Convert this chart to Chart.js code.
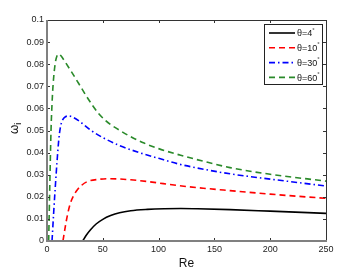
<!DOCTYPE html>
<html>
<head>
<meta charset="utf-8">
<script src="https://cdn.jsdelivr.net/npm/chart.js@4.4.0/dist/chart.umd.min.js"></script>
<style>
  html, body { margin: 0; padding: 0; background: #fff; }
  #wrap { width: 360px; height: 271px; }
</style>
</head>
<body>
<div id="wrap"><canvas id="grafico" width="360" height="271"></canvas></div>
<script>
// Re (eixo x) e omega_i, um par de arrays por angulo
const re4 = [32, 35, 39, 44, 50, 57, 65, 75, 90, 105, 120, 135, 164, 200, 250];
const w4  = [0, 0.0025, 0.0051, 0.0077, 0.0098, 0.0115, 0.0128, 0.0137, 0.0143, 0.0146, 0.0147, 0.0146, 0.0142, 0.0135, 0.0125];

const re10 = [14.3, 16.4, 18.5, 20.9, 23.5, 26.9, 31, 35.8, 46, 54, 63, 75, 90, 119, 140, 164, 200, 250];
const w10  = [0, 0.0065, 0.0122, 0.017, 0.0202, 0.023, 0.0252, 0.0268, 0.0279, 0.0282, 0.0281, 0.0277, 0.0269, 0.025, 0.0239, 0.0228, 0.0212, 0.0193];

const re30 = [4.5, 6, 7.5, 9, 10.5, 12, 14, 16.5, 19.5, 24, 30, 39, 50, 65, 84, 100, 119, 140, 164, 200, 250];
const w30  = [0, 0.013, 0.025, 0.036, 0.0455, 0.0515, 0.0548, 0.0562, 0.0566, 0.0558, 0.0538, 0.0502, 0.0468, 0.0432, 0.0398, 0.0374, 0.0347, 0.0325, 0.0304, 0.028, 0.0249];

const re60 = [1.5, 2.5, 3.6, 4.5, 5.5, 7.4, 9, 10.5, 12.5, 16, 21, 28, 35, 41, 46, 52, 58, 66, 75, 87, 100, 119, 140, 164, 200, 250];
const w60  = [0, 0.025, 0.05, 0.062, 0.071, 0.0805, 0.0838, 0.0846, 0.0838, 0.0812, 0.0773, 0.0716, 0.0658, 0.0612, 0.0578, 0.0547, 0.0523, 0.0498, 0.0472, 0.0443, 0.0418, 0.0389, 0.0361, 0.0332, 0.0302, 0.0271];

const rotulos = ['θ=4°', 'θ=10°', 'θ=30°', 'θ=60°'];
const ticksX = [0, 50, 100, 150, 200, 250];
const ticksY = [0, 0.01, 0.02, 0.03, 0.04, 0.05, 0.06, 0.07, 0.08, 0.09, 0.1];

const fonte = '"Liberation Sans", Arial, sans-serif';

function pontos(re, w) {
    return re.map((r, i) => ({ x: r, y: w[i] }));
}

// moldura estilo matlab: caixa, ticks para dentro, legenda e titulo do eixo y
const moldura = {
    id: 'moldura',
    afterDraw(chart) {
        const { ctx, chartArea: a, scales } = chart;
        ctx.save();

        // ticks internos nos quatro lados
        ctx.strokeStyle = '#333';
        ctx.lineWidth = 1;
        ctx.beginPath();
        scales.x.ticks.forEach(t => {
            const px = Math.round(scales.x.getPixelForValue(t.value)) + 0.5;
            ctx.moveTo(px, a.bottom); ctx.lineTo(px, a.bottom - 3);
            ctx.moveTo(px, a.top); ctx.lineTo(px, a.top + 3);
        });
        scales.y.ticks.forEach(t => {
            const py = Math.round(scales.y.getPixelForValue(t.value)) + 0.5;
            ctx.moveTo(a.left, py); ctx.lineTo(a.left + 3, py);
            ctx.moveTo(a.right, py); ctx.lineTo(a.right - 3, py);
        });
        ctx.stroke();

        // caixa
        ctx.strokeStyle = '#333';
        ctx.beginPath();
        ctx.moveTo(a.left, a.top + 0.5); ctx.lineTo(a.right + 0.5, a.top + 0.5);
        ctx.lineTo(a.right + 0.5, a.bottom);
        ctx.stroke();
        ctx.strokeStyle = '#808080';
        ctx.lineWidth = 2;
        ctx.beginPath();
        ctx.moveTo(a.left, a.top); ctx.lineTo(a.left, a.bottom);
        ctx.lineTo(a.right + 1, a.bottom);
        ctx.stroke();

        // legenda
        const lx = 264.5, ly = 24.5, lw = 58, lh = 60;
        ctx.fillStyle = '#fff';
        ctx.fillRect(lx, ly, lw, lh);
        ctx.strokeStyle = '#222';
        ctx.lineWidth = 1;
        ctx.strokeRect(lx, ly, lw, lh);
        ctx.textBaseline = 'middle';
        chart.data.datasets.forEach((ds, i) => {
            const y = 33 + i * 14.8;
            ctx.strokeStyle = ds.borderColor;
            ctx.lineWidth = 1.6;
            ctx.setLineDash(ds.borderDash || []);
            ctx.beginPath();
            ctx.moveTo(269, y); ctx.lineTo(295, y);
            ctx.stroke();
            ctx.setLineDash([]);
            const base = ds.label.replace('°', '');
            ctx.fillStyle = '#111';
            ctx.font = '9px ' + fonte;
            ctx.textAlign = 'left';
            ctx.fillText(base, 297, y + 1);
            const wBase = ctx.measureText(base).width;
            ctx.font = '6px ' + fonte;
            ctx.fillText('°', 297 + wBase, y - 3);
        });

        // titulo do eixo y (omega_i)
        ctx.translate(14, 130);
        ctx.rotate(-Math.PI / 2);
        ctx.fillStyle = '#111';
        ctx.textBaseline = 'alphabetic';
        ctx.textAlign = 'left';
        ctx.font = '12px ' + fonte;
        ctx.fillText('ω', -4, 4);
        const wo = ctx.measureText('ω').width;
        ctx.font = '9px ' + fonte;
        ctx.fillText('i', -4 + wo, 7);

        ctx.restore();
    }
};

const ctx = document.getElementById('grafico').getContext('2d');

new Chart(ctx, {
    type: 'line',
    data: {
        datasets: [
            { label: rotulos[0], data: pontos(re4, w4), borderColor: '#000000', borderDash: [] },
            { label: rotulos[1], data: pontos(re10, w10), borderColor: '#ff0000', borderDash: [6, 4] },
            { label: rotulos[2], data: pontos(re30, w30), borderColor: '#0000ff', borderDash: [6, 3, 1.5, 3] },
            { label: rotulos[3], data: pontos(re60, w60), borderColor: '#2a8a2a', borderDash: [6, 4] }
        ].map(ds => Object.assign(ds, {
            borderWidth: 1.6,
            pointRadius: 0,
            fill: false,
            cubicInterpolationMode: 'monotone'
        }))
    },
    options: {
        responsive: false,
        animation: false,
        devicePixelRatio: 1,
        layout: { padding: { top: 20, right: 34, left: 0, bottom: 0 } },
        plugins: {
            legend: { display: false },
            tooltip: { enabled: false }
        },
        scales: {
            x: {
                type: 'linear',
                min: 0,
                max: 250,
                afterBuildTicks: s => { s.ticks = ticksX.map(v => ({ value: v })); },
                afterFit: s => { s.height = 30; },
                grid: { display: false, drawTicks: false },
                border: { display: false },
                ticks: {
                    padding: 3,
                    color: '#222',
                    font: { family: fonte, size: 9 },
                    maxRotation: 0,
                    callback: v => String(v)
                },
                title: { display: true, text: 'Re', color: '#111', font: { family: fonte, size: 12 }, padding: { top: 2, bottom: 0 } }
            },
            y: {
                type: 'linear',
                min: 0,
                max: 0.1,
                afterBuildTicks: s => { s.ticks = ticksY.map(v => ({ value: v })); },
                afterFit: s => { s.width = 47; },
                grid: { display: false, drawTicks: false },
                border: { display: false },
                ticks: {
                    padding: 3,
                    color: '#222',
                    font: { family: fonte, size: 9 },
                    callback: v => String(v)
                }
            }
        }
    },
    plugins: [moldura]
});
</script>
</body>
</html>
